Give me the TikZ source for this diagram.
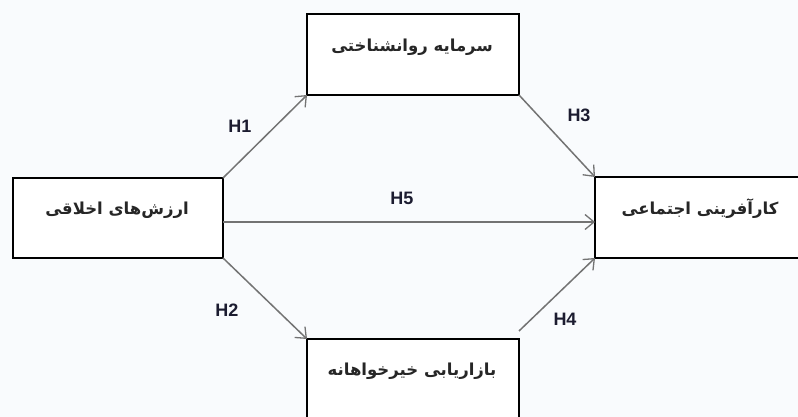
\documentclass[tikz,border=0pt]{standalone}
\usepackage{fontspec}
\setmainfont{Liberation Sans}
\newfontfamily\arabicfont[Script=Arabic]{DejaVu Sans}
\TeXXeTstate=1
\usetikzlibrary{arrows.meta}
\definecolor{bgc}{RGB}{249,251,253}
\definecolor{arrc}{RGB}{115,115,115}
\definecolor{labc}{RGB}{28,28,48}
\tikzset{
  boxnode/.style={draw=black,line width=2.6pt,fill=white,rectangle,outer sep=0pt,inner sep=0pt},
  boxtext/.style={font=\arabicfont\bfseries\fontsize{16.5}{18}\selectfont,text=black!85},
  hlab/.style={font=\bfseries\fontsize{18}{20}\selectfont,text=labc},
  conn/.style={draw=arrc,line width=1.5pt,-{Straight Barb[length=9pt,width=15pt,line width=1.3pt]}}
}
\begin{document}
\begin{tikzpicture}[x=1pt,y=-1pt]
\useasboundingbox (0,0) rectangle (798,417);
\fill[bgc] (0,0) rectangle (798,417);
\clip (0,0) rectangle (798,417);
\node[boxnode,minimum width=210pt,minimum height=80pt] (L) at (118,218) {};
\node[boxnode,minimum width=212pt,minimum height=81pt] (T) at (413,54.5) {};
\node[boxnode,minimum width=212pt,minimum height=81pt] (R) at (701,217.5) {};
\node[boxnode,minimum width=212pt,minimum height=81pt] (B) at (413,379.5) {};
\node[boxtext] (Lt) at (117,210) {\beginR ارزش‌های اخلاقی\endR};
\node[boxtext] (Tt) at (412,47) {\beginR سرمایه روانشناختی\endR};
\node[boxtext] (Rt) at (700,209) {\beginR کارآفرینی اجتماعی\endR};
\node[boxtext] (Bt) at (412,371) {\beginR بازاریابی خیرخواهانه\endR};
\draw[conn] (L.north east) -- (T.south west);
\draw[conn] (T.south east) -- (R.north west);
\draw[conn] (L.south east) -- (B.north west);
\draw[conn] ([yshift=8pt]B.north east) -- (R.south west);
\draw[conn] ([yshift=-4pt]L.east) -- ([yshift=-4.5pt]R.west);
\node[hlab] (h1) at (240,126) {H1};
\node[hlab] (h3) at (579,115) {H3};
\node[hlab] (h2) at (227,310) {H2};
\node[hlab] (h4) at (565,319) {H4};
\node[hlab] (h5) at (402,198) {H5};
\end{tikzpicture}
\end{document}
